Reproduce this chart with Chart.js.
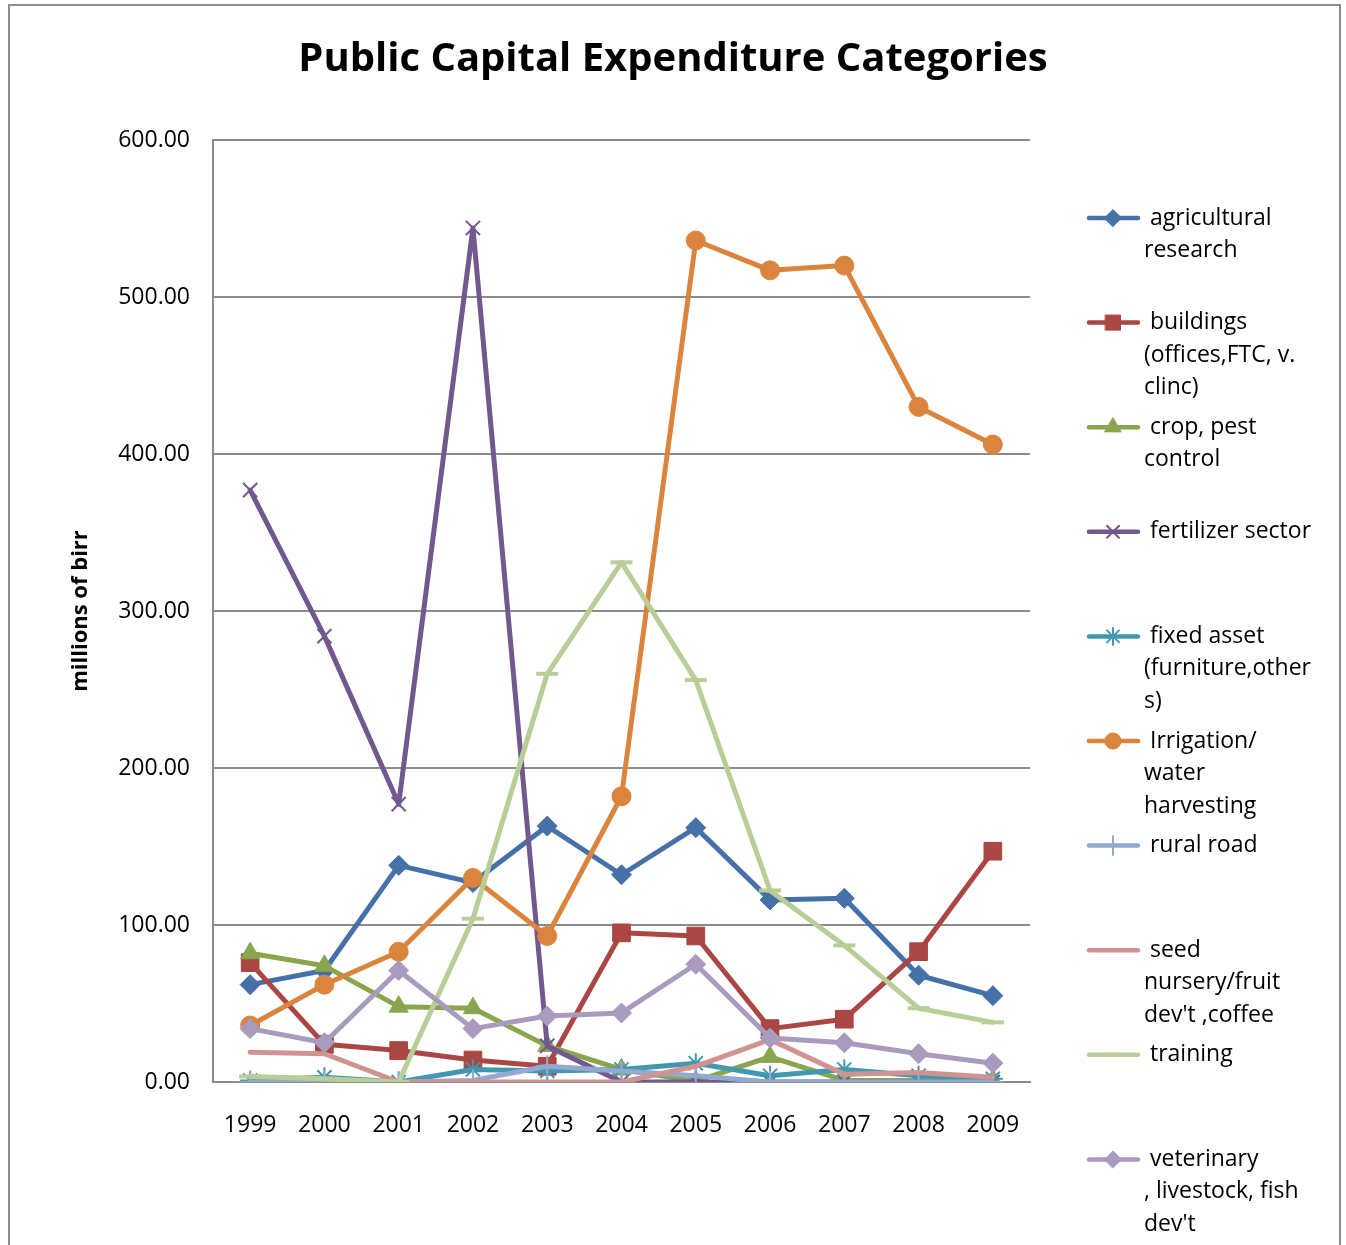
<!DOCTYPE html>
<html>
<head>
<meta charset="utf-8">
<script src="https://cdn.jsdelivr.net/npm/chart.js@4.4.1/dist/chart.umd.min.js"></script>
<style>
  html, body { margin: 0; padding: 0; background: #ffffff; overflow: hidden; }
  #wrap { position: relative; width: 1346px; height: 1245px; }
  #frame { position: absolute; left: 8px; top: 4px; width: 1333px; height: 1300px;
           box-sizing: border-box; border: 2px solid #8d8d8d; pointer-events: none; }
  canvas { position: absolute; left: 0; top: 0; }
</style>
</head>
<body>
<div id="wrap">
  <canvas id="chart" width="1346" height="1245"></canvas>
  <div id="frame"></div>
</div>
<script>
// Fiscal years on the category axis
const years = ['1999', '2000', '2001', '2002', '2003', '2004', '2005', '2006', '2007', '2008', '2009'];

// Spending per category, millions of birr
const agriculturalResearch = [62, 71, 138, 127, 163, 132, 162, 116, 117, 68, 55];
const buildings            = [76, 24, 20, 14, 10, 95, 93, 34, 40, 83, 147];
const cropPestControl      = [82, 74, 48, 47, 23, 8, 0.5, 16, 1, 1, 1];
const fertilizerSector     = [377, 284, 177, 544, 23, 0, 0, 0, 0, 0, 0];
const fixedAsset           = [1, 3, 0, 8, 7, 8, 12, 4, 8, 4, 2];
const irrigationWater      = [36, 62, 83, 130, 93, 182, 536, 517, 520, 430, 406];
const ruralRoad            = [0, 0, 0, 1, 10, 7, 4, 0, 0, 0, 0];
const seedNursery          = [19, 18, 0, 0, 0, 0, 10, 27, 5, 6, 3];
const training             = [3.5, 2, 0, 104, 260, 331, 256, 122, 87, 47, 38];
const veterinary           = [34, 25, 71, 34, 42, 44, 75, 28, 25, 18, 12];

// Series names and how they wrap in the legend
const seriesNames = [
  'agricultural research',
  'buildings (offices,FTC, v. clinc)',
  'crop, pest control',
  'fertilizer sector',
  'fixed asset (furniture,others)',
  'Irrigation/ water harvesting',
  'rural road',
  'seed nursery/fruit dev\'t ,coffee',
  'training',
  'veterinary , livestock, fish dev\'t'
];
const legendLines = [
  [' agricultural', 'research'],
  [' buildings', '(offices,FTC, v.', 'clinc)'],
  [' crop, pest', 'control'],
  [' fertilizer sector'],
  [' fixed asset', '(furniture,other', 's)'],
  [' Irrigation/', 'water', 'harvesting'],
  [' rural road'],
  [' seed', 'nursery/fruit', 'dev\'t ,coffee'],
  [' training'],
  [' veterinary', ', livestock, fish', 'dev\'t']
];

// Y axis ticks
const yTicks = [0, 100, 200, 300, 400, 500, 600];

const seriesValues = [agriculturalResearch, buildings, cropPestControl, fertilizerSector, fixedAsset,
                      irrigationWater, ruralRoad, seedNursery, training, veterinary];

const seriesStyle = [
  { color: '#4571A8', point: 'rectRot',  radius: 10,   bw: 1 },
  { color: '#AA4643', point: 'rect',     radius: 12.5, bw: 1 },
  { color: '#89A54E', point: 'triangle', radius: 11,   bw: 1 },
  { color: '#71588F', point: 'crossRot', radius: 10,   bw: 2 },
  { color: '#4198AF', point: 'star',     radius: 10,   bw: 2 },
  { color: '#DB843D', point: 'circle',   radius: 9.5,  bw: 1 },
  { color: '#93A9CF', point: 'cross',    radius: 11,   bw: 2 },
  { color: '#D19392', point: false,      radius: 0,    bw: 0 },
  { color: '#B9CD96', point: 'line',     radius: 11,   bw: 4 },
  { color: '#A99BBD', point: 'rectRot',  radius: 10,   bw: 1 }
];

const FONT = "'Open Sans', 'Noto Sans', sans-serif";
const GRID = '#8c8c8c';

const datasets = seriesValues.map((vals, i) => {
  const s = seriesStyle[i];
  return {
    label: seriesNames[i],
    data: vals,
    borderColor: s.color,
    backgroundColor: s.color,
    borderWidth: 5,
    borderJoinStyle: 'round',
    borderCapStyle: 'round',
    tension: 0,
    pointStyle: s.point,
    pointRadius: s.radius,
    pointBorderWidth: s.bw,
    pointBackgroundColor: s.color,
    pointBorderColor: s.color,
    order: seriesValues.length - 1 - i
  };
});

// Legend on the right with wrapped names
const sideLegend = {
  id: 'sideLegend',
  afterDraw(chart) {
    const ctx = chart.ctx;
    chart.data.datasets.forEach((ds, i) => {
      const y0 = 218 + i * 104.6;
      ctx.save();
      ctx.strokeStyle = ds.borderColor;
      ctx.lineWidth = 4.5;
      ctx.lineCap = 'round';
      ctx.beginPath();
      ctx.moveTo(1089, y0);
      ctx.lineTo(1138, y0);
      ctx.stroke();
      if (ds.pointStyle) {
        ctx.fillStyle = ds.pointBackgroundColor;
        ctx.strokeStyle = ds.pointBorderColor;
        ctx.lineWidth = ds.pointBorderWidth;
        Chart.helpers.drawPoint(ctx, {
          pointStyle: ds.pointStyle,
          radius: ds.pointRadius * 0.85,
          borderWidth: ds.pointBorderWidth,
          rotation: 0
        }, 1113, y0);
      }
      ctx.fillStyle = '#000000';
      ctx.font = '23px ' + FONT;
      ctx.textAlign = 'left';
      ctx.textBaseline = 'middle';
      legendLines[i].forEach((line, k) => {
        ctx.fillText(line, 1144, y0 + k * 32.5);
      });
      ctx.restore();
    });
  }
};

new Chart(document.getElementById('chart'), {
  type: 'line',
  data: { labels: years, datasets },
  options: {
    responsive: false,
    animation: false,
    devicePixelRatio: 1,
    layout: { padding: 0 },
    plugins: {
      legend: { display: false },
      tooltip: { enabled: false },
      title: {
        display: true,
        text: 'Public Capital Expenditure Categories',
        color: '#000000',
        font: { family: FONT, size: 40, weight: 'bold', lineHeight: 1.2 },
        padding: { top: 36, bottom: 56 }
      }
    },
    scales: {
      x: {
        offset: true,
        grid: { display: false, drawTicks: false },
        border: { display: true, color: GRID, width: 2 },
        ticks: { color: '#000000', font: { family: FONT, size: 23 }, padding: 30, maxRotation: 0 },
        afterFit(scale) { scale.height = 163; }
      },
      y: {
        min: 0,
        max: 600,
        afterBuildTicks(scale) { scale.ticks = yTicks.map(v => ({ value: v })); },
        grid: { color: GRID, lineWidth: 2, drawTicks: false },
        border: { display: true, color: GRID, width: 2 },
        ticks: {
          color: '#000000',
          font: { family: FONT, size: 23 },
          padding: 23,
          callback: v => Number(v).toFixed(2)
        },
        title: {
          display: true,
          text: 'millions of birr',
          color: '#000000',
          font: { family: FONT, size: 22, weight: 'bold' },
          padding: { top: 68, bottom: 0 }
        },
        afterFit(scale) { scale.width = 213; }
      },
      side: {
        type: 'linear',
        position: 'right',
        display: true,
        grid: { display: false, drawTicks: false },
        border: { display: false },
        ticks: { display: false },
        afterFit(scale) { scale.width = 316; }
      }
    }
  },
  plugins: [sideLegend]
});
</script>
</body>
</html>
